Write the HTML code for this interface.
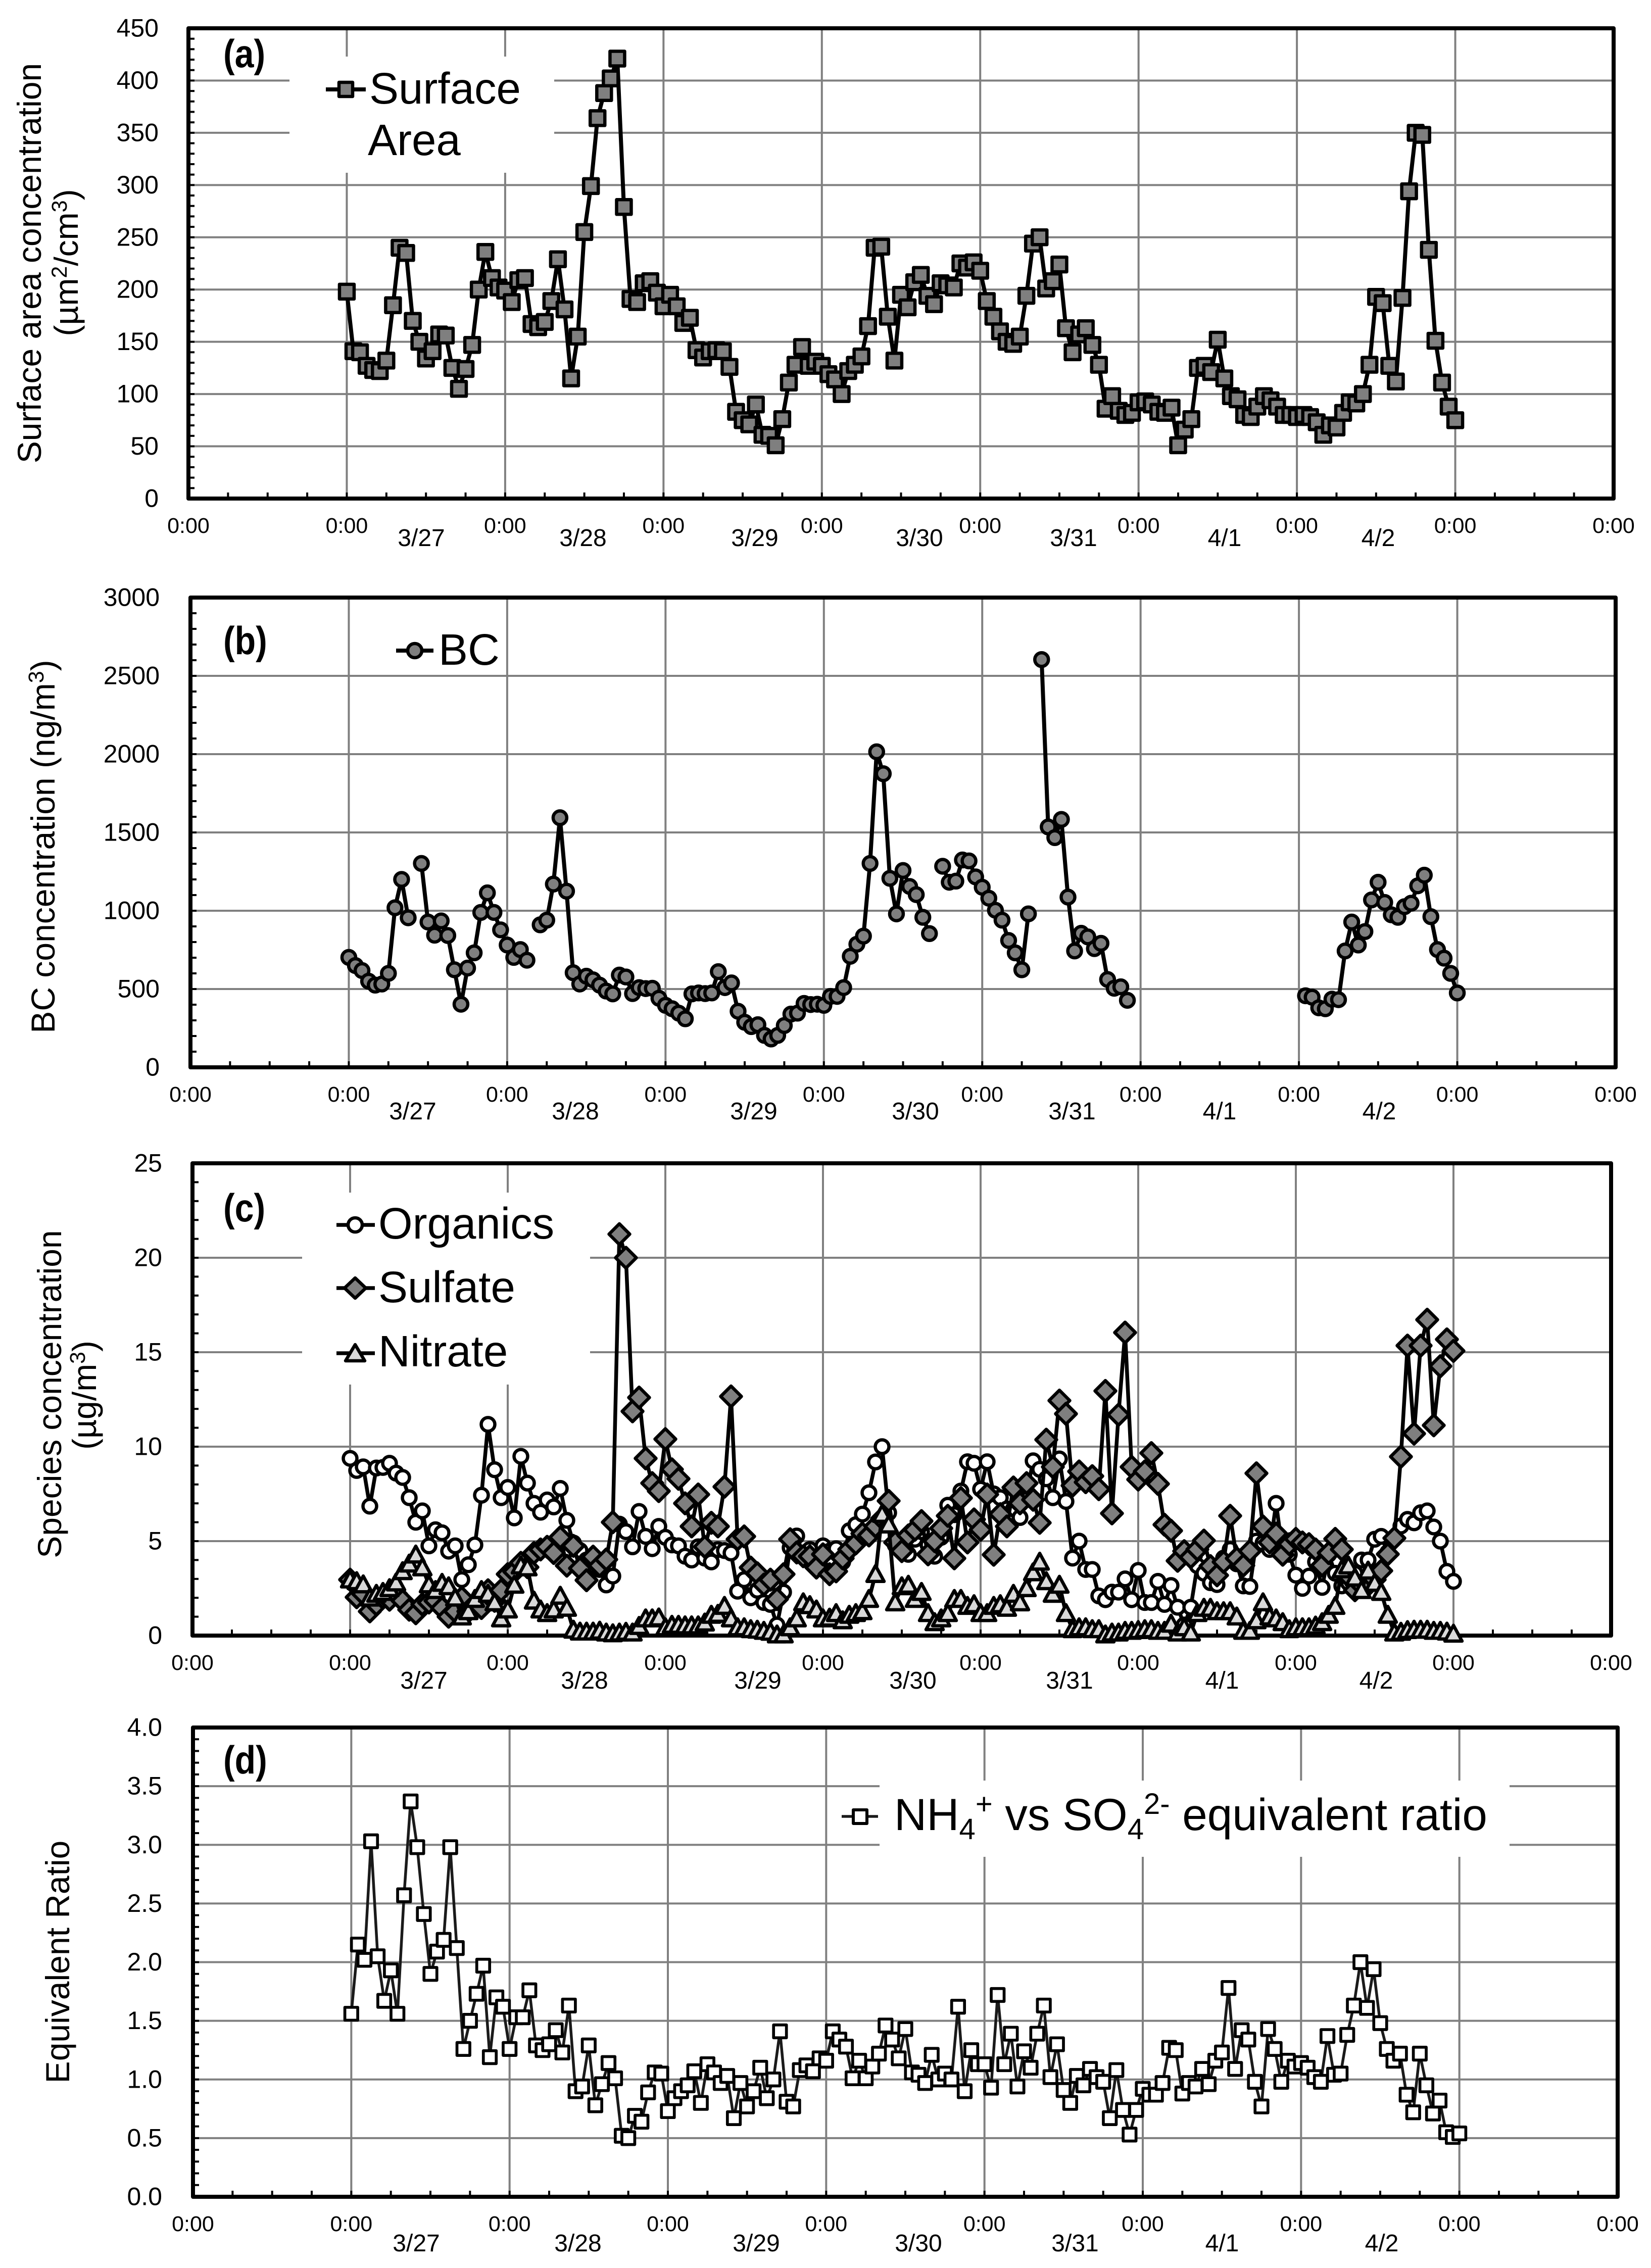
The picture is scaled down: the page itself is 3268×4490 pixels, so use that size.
<!DOCTYPE html>
<html lang="en">
<head>
<meta charset="utf-8">
<title>Time series of surface area, BC, species and equivalent ratio</title>
<style>
html,body{margin:0;padding:0;background:#fff}
svg{display:block}
text{font-family:"Liberation Sans",sans-serif;fill:#000}
.legend-text{font-size:87px}
.panel-tag{font-size:68px;font-weight:bold}
.y-title{font-size:66px}
</style>
</head>
<body>
<svg id="figure" xmlns="http://www.w3.org/2000/svg" width="3268" height="4490" viewBox="0 0 3268 4490">
  <rect x="0" y="0" width="3268" height="4490" fill="#fff"/>
  <g id="plots"></g>

  <g>
    <text class="panel-tag" transform="translate(442,133) scale(1,1.15)">(a)</text>
    <line x1="645" y1="177" x2="724" y2="177" stroke="#000" stroke-width="8"/>
    <rect x="671" y="163" width="27" height="28" fill="#7f7f7f" stroke="#000" stroke-width="6.5" stroke-linejoin="round"/>
    <text class="legend-text" x="731" y="205">Surface</text>
    <text class="legend-text" x="728" y="307">Area</text>
    <text class="y-title" transform="translate(81,521) rotate(-90)" text-anchor="middle">Surface area concentration</text>
    <text class="y-title" transform="translate(154,520) rotate(-90)" text-anchor="middle">(µm<tspan dy="-22" font-size="43">2</tspan><tspan dy="22">/cm</tspan><tspan dy="-22" font-size="43">3</tspan><tspan dy="22">)</tspan></text>
  </g>

  <g>
    <text class="panel-tag" transform="translate(442,1295) scale(1,1.15)">(b)</text>
    <line x1="784" y1="1288" x2="858" y2="1288" stroke="#000" stroke-width="8"/>
    <circle cx="821" cy="1288" r="14" fill="#7f7f7f" stroke="#000" stroke-width="6.5"/>
    <text class="legend-text" x="868" y="1316">BC</text>
    <text class="y-title" transform="translate(108,1676) rotate(-90)" text-anchor="middle">BC concentration (ng/m<tspan dy="-22" font-size="43">3</tspan><tspan dy="22">)</tspan></text>
  </g>

  <g>
    <text class="panel-tag" transform="translate(442,2418) scale(1,1.15)">(c)</text>
    <line x1="666" y1="2425" x2="742" y2="2425" stroke="#000" stroke-width="7.5"/>
    <circle cx="703" cy="2425" r="14" fill="#fff" stroke="#000" stroke-width="6.5"/>
    <text class="legend-text" x="749" y="2452">Organics</text>
    <line x1="666" y1="2550" x2="742" y2="2550" stroke="#000" stroke-width="7.5"/>
    <polygon points="703,2530 724,2550 703,2570 682,2550" fill="#7f7f7f" stroke="#000" stroke-width="6.5" stroke-linejoin="round"/>
    <text class="legend-text" x="749" y="2578">Sulfate</text>
    <line x1="666" y1="2679" x2="742" y2="2679" stroke="#000" stroke-width="7.5"/>
    <polygon points="703,2662 722,2694 684,2694" fill="#d9d9d9" stroke="#000" stroke-width="6.5" stroke-linejoin="round"/>
    <text class="legend-text" x="749" y="2705">Nitrate</text>
    <text class="y-title" transform="translate(121,2760) rotate(-90)" text-anchor="middle">Species concentration</text>
    <text class="y-title" transform="translate(190,2762) rotate(-90)" text-anchor="middle">(µg/m<tspan dy="-22" font-size="43">3</tspan><tspan dy="22">)</tspan></text>
  </g>

  <g>
    <text class="panel-tag" transform="translate(442,3511) scale(1,1.15)">(d)</text>
    <line x1="1666" y1="3596" x2="1738" y2="3596" stroke="#1a1a1a" stroke-width="5.5"/>
    <rect x="1689" y="3583" width="27" height="27" fill="#fff" stroke="#000" stroke-width="6" stroke-linejoin="round"/>
    <text x="1770" y="3623" font-size="89">NH<tspan dy="18" font-size="58">4</tspan><tspan dy="-50" font-size="58">+</tspan><tspan dy="32"> vs SO</tspan><tspan dy="18" font-size="58">4</tspan><tspan dy="-50" font-size="58">2-</tspan><tspan dy="32"> equivalent ratio</tspan></text>
    <text class="y-title" transform="translate(137,3884) rotate(-90)" text-anchor="middle">Equivalent Ratio</text>
  </g>
</svg>

<script>
// ---- data: hourly values, one row per day (3/27 ... 4/2) plus the closing hour ----
const dateLabels = ['3/27','3/28','3/29','3/30','3/31','4/1','4/2'];
const xTickLabels = ['0:00','0:00','0:00','0:00','0:00','0:00','0:00','0:00','0:00','0:00'];

const surfaceArea = [
198,141,140,127,123,122,132,185,240,235,170,150,134,141,157,156,125,105,124,147,200,236,211,202,
199,188,209,211,167,164,169,189,229,181,115,155,255,299,364,388,402,421,279,191,188,206,208,197,
184,195,184,168,173,142,135,141,142,141,126,83,75,71,90,61,60,51,76,111,128,145,127,131,
127,119,114,100,122,128,136,165,240,241,174,132,195,183,207,214,194,186,206,204,202,225,221,226,
218,189,174,160,150,148,155,194,244,250,201,208,224,163,140,157,163,147,128,86,98,84,80,82,
92,93,90,83,82,87,51,66,76,125,127,121,152,115,98,95,80,78,88,98,94,88,80,80,
78,80,78,73,61,70,68,82,92,91,100,128,193,187,127,112,192,294,350,348,238,151,111,88,
75];

const blackCarbon = [
702,650,618,550,525,532,600,1019,1200,955,null,1302,928,844,935,842,623,403,634,731,989,1114,989,878,
781,702,752,684,null,910,940,1170,1594,1125,604,532,582,559,525,487,469,589,577,471,509,503,505,441,
396,374,346,310,469,475,471,475,611,509,539,358,288,260,272,204,181,204,267,340,346,408,401,403,
396,453,453,509,709,786,838,1302,2015,1875,1207,980,1257,1155,1103,958,854,null,1284,1182,1189,1324,1318,1216,
1150,1080,1003,940,810,731,623,980,null,2604,1535,1467,1583,1087,743,856,833,758,792,561,505,514,428,null,
null,null,null,null,null,null,null,null,null,null,null,null,null,null,null,null,null,null,null,null,null,null,null,null,
null,457,448,380,374,435,432,743,928,781,867,1069,1182,1053,974,958,1026,1048,1159,1227,962,752,697,600,
475];

const organics = [
9.38,8.74,8.93,6.85,8.87,8.9,9.12,8.6,8.37,7.3,6.0,6.6,4.75,5.6,5.44,4.47,4.75,2.96,3.75,4.8,7.43,11.18,8.78,7.3,
7.84,6.23,9.49,8.07,7.0,6.53,7.18,6.81,7.79,6.1,4.9,4.5,4.0,3.7,3.5,2.68,3.15,5.9,5.5,4.7,6.57,5.25,4.6,5.78,
5.2,4.8,4.75,4.2,4.0,4.7,4.1,3.9,4.55,4.5,4.37,2.35,2.96,2.0,2.4,1.75,1.65,0.56,2.3,4.65,5.27,4.3,4.56,4.1,
4.75,4.47,4.6,3.9,5.55,5.87,6.43,7.56,9.19,10.0,6.5,4.8,4.5,4.3,5.1,5.5,4.8,4.2,5.2,6.9,6.4,7.65,9.2,9.12,
7.75,9.2,7.5,7.3,6.7,6.7,6.25,7.5,9.25,8.8,8.3,7.3,9.35,7.1,4.1,5.0,3.5,3.5,2.1,1.9,2.3,2.3,3.0,1.9,
3.45,1.75,1.75,2.87,1.65,2.65,1.5,0.56,1.5,3.7,3.3,2.8,2.7,4.1,4.56,3.8,2.63,2.6,5.0,4.9,4.56,7.0,4.4,4.3,
3.2,2.5,3.15,3.9,2.55,4.3,3.3,2.63,2.8,3.3,4.0,4.0,5.1,5.25,4.4,5.2,5.8,6.15,5.97,6.5,6.6,5.75,5.0,3.4,
2.87];

const sulfate = [
2.96,2.03,2.2,1.28,1.65,2.0,1.9,2.2,1.84,1.37,1.18,1.65,1.75,1.84,1.46,1.0,1.28,2.0,1.28,1.65,1.46,2.4,1.84,2.4,
3.25,3.38,3.85,3.62,4.37,4.56,4.7,4.37,5.2,3.7,4.75,3.56,2.93,4.18,3.7,4.03,6.0,21.25,20.0,11.87,12.6,9.38,8.07,7.65,
10.4,8.8,8.3,7.0,5.78,7.47,4.7,5.97,5.78,7.88,12.66,5.1,5.25,3.6,3.3,2.7,2.96,1.93,3.25,5.1,4.4,4.2,4.2,3.6,
4.3,3.25,3.4,4.09,4.56,4.88,5.4,5.3,5.78,6.2,7.13,4.93,4.47,5.3,5.6,6.06,4.3,5.0,5.68,6.34,4.09,7.28,4.93,6.15,
5.6,7.47,4.28,6.43,5.78,7.84,7.0,8.07,7.19,5.97,10.37,8.93,12.44,11.74,7.94,8.69,8.12,8.44,7.75,12.95,6.47,11.69,16.04,8.93,
8.26,8.69,9.66,8.03,5.87,5.55,3.96,4.47,4.15,4.56,5.03,3.68,3.19,3.9,6.34,4.09,3.71,4.47,8.59,5.78,4.93,5.4,4.28,4.84,
5.12,4.93,4.84,4.56,3.71,4.37,5.12,4.56,3.15,2.4,2.68,2.68,2.96,3.43,4.31,5.16,9.47,15.35,10.69,15.35,16.72,11.13,14.26,15.68,
15.07];

const nitrate = [
2.96,2.87,2.7,2.0,2.2,2.3,2.5,2.8,3.4,3.8,4.28,3.6,2.7,2.4,2.78,2.6,2.0,1.0,1.28,1.93,2.4,2.2,1.75,0.9,
1.37,2.68,3.7,3.6,1.84,1.37,1.18,1.37,2.1,1.46,0.3,0.2,0.2,0.2,0.25,0.15,0.11,0.15,0.19,0.15,0.5,0.9,0.9,0.95,
0.43,0.56,0.56,0.53,0.53,0.53,0.68,1.09,1.14,1.56,0.9,0.43,0.43,0.33,0.3,0.24,0.19,0.05,0.05,0.43,0.9,1.75,1.6,1.37,
0.9,0.94,1.18,0.8,1.09,1.18,1.28,1.93,3.25,6.43,5.87,1.75,2.6,2.68,1.93,2.3,1.18,0.7,0.9,1.18,1.93,1.93,1.56,1.65,
1.18,1.18,1.56,1.65,1.46,2.2,1.75,2.5,3.34,3.9,2.87,2.2,2.68,1.18,0.33,0.43,0.43,0.33,0.33,0.05,0.15,0.15,0.24,0.24,
0.28,0.33,0.33,0.24,0.24,0.62,0.15,0.43,0.15,1.18,1.46,1.46,1.28,1.28,1.28,1.0,0.24,0.24,0.8,1.75,1.0,0.9,0.7,0.33,
0.43,0.43,0.43,0.52,0.7,1.09,1.56,3.5,3.7,3.06,2.4,3.43,2.78,2.3,1.09,0.15,0.19,0.28,0.3,0.3,0.3,0.24,0.24,0.2,
0.09];

const equivalentRatio = [
1.56,2.15,2.02,3.03,2.05,1.67,1.93,1.56,2.57,3.37,2.98,2.41,1.9,2.09,2.19,2.98,2.12,1.26,1.5,1.73,1.97,1.19,1.7,1.62,
1.26,1.53,1.53,1.76,1.29,1.25,1.3,1.42,1.23,1.63,0.9,0.94,1.29,0.78,0.96,1.14,1.01,0.52,0.5,0.69,0.64,0.89,1.06,1.05,
0.73,0.84,0.9,0.95,1.07,0.8,1.13,1.06,0.97,1.03,0.67,0.97,0.77,0.9,1.1,0.84,1.0,1.41,0.81,0.77,1.08,1.12,1.07,1.18,
1.16,1.41,1.34,1.28,1.01,1.16,1.01,1.11,1.22,1.46,1.34,1.18,1.43,1.06,1.04,0.97,1.21,1.0,1.05,1.0,1.62,0.9,1.25,1.13,
1.13,0.93,1.72,1.13,1.39,0.94,1.24,1.1,1.39,1.63,1.02,1.3,0.91,0.8,1.03,0.95,1.09,1.02,0.98,0.67,1.08,0.74,0.53,0.74,
0.92,0.87,0.87,0.97,1.27,1.25,0.88,0.97,0.94,1.09,0.96,1.16,1.23,1.78,1.09,1.42,1.34,0.98,0.77,1.43,1.26,0.98,1.16,1.11,
1.14,1.1,1.02,0.98,1.37,1.04,1.05,1.38,1.63,2.0,1.61,1.94,1.48,1.26,1.16,1.22,0.87,0.72,1.22,0.95,0.71,0.82,0.55,0.51,
0.54];

const yTicksA = [0,50,100,150,200,250,300,350,400,450];
const yTicksB = [0,500,1000,1500,2000,2500,3000];
const yTicksC = [0,5,10,15,20,25];
const yTicksD = ['0.0','0.5','1.0','1.5','2.0','2.5','3.0','3.5','4.0'];

// ---- layout ----
const NS = 'http://www.w3.org/2000/svg';
const plots = document.getElementById('plots');
const HOURS_ON_AXIS = 9 * 24;
const HOUR_OFFSET = 24;

const panels = [
  {key:'a', left:373, right:3194, top:56, bottom:987, ticks:yTicksA, minorStep:10, tickRight:314, xBase:1055, dateBase:1081,
   dateX:[834,1154,1494,1820,2125,2424,2728], box:[573,112,524,230],
   series:[{name:'surface-area', values:surfaceArea, marker:'square', fill:'#7f7f7f', size:29, width:8, sw:6.5}]},
  {key:'b', left:377, right:3198, top:1183, bottom:2113, ticks:yTicksB, minorStep:100, tickRight:316, xBase:2181, dateBase:2216,
   dateX:[817,1139,1492,1812,2122,2414,2730], box:null,
   series:[{name:'bc', values:blackCarbon, marker:'circle', fill:'#7f7f7f', size:27, width:8, sw:6.5}]},
  {key:'c', left:381, right:3189, top:2303, bottom:3238, ticks:yTicksC, minorStep:1, tickRight:321, xBase:3306, dateBase:3343,
   dateX:[839,1157,1500,1807,2117,2419,2724], box:[598,2361,570,380],
   series:[
     {name:'organics', values:organics, marker:'circle', fill:'#fff', size:27, width:7.5, sw:6.5},
     {name:'sulfate', values:sulfate, marker:'diamond', fill:'#7f7f7f', size:41, width:7.5, sw:6.5},
     {name:'nitrate', values:nitrate, marker:'triangle', fill:'#d9d9d9', size:34, width:7.5, sw:6.5}
   ]},
  {key:'d', left:382, right:3202, top:3420, bottom:4349, ticks:yTicksD, minorStep:0.1, tickRight:321, xBase:4417, dateBase:4457,
   dateX:[824,1144,1497,1818,2128,2419,2735], box:[1741,3525,1247,151],
   series:[{name:'equivalent-ratio', values:equivalentRatio, marker:'square', fill:'#fff', size:25.5, width:5.5, sw:5.7, line:'#1a1a1a'}]}
];

function svgEl(tag, attrs) {
  const el = document.createElementNS(NS, tag);
  for (const k in attrs) el.setAttribute(k, attrs[k]);
  return el;
}

function drawMarker(group, kind, x, y, s) {
  let el;
  if (kind === 'square') {
    el = svgEl('rect', {x: x - s/2, y: y - s/2, width: s, height: s});
  } else if (kind === 'circle') {
    el = svgEl('circle', {cx: x, cy: y, r: s/2});
  } else if (kind === 'diamond') {
    el = svgEl('polygon', {points: x+','+(y-s/2)+' '+(x+s/2)+','+y+' '+x+','+(y+s/2)+' '+(x-s/2)+','+y});
  } else {
    el = svgEl('polygon', {points: x+','+(y-s/2)+' '+(x+s/2)+','+(y+s*0.42)+' '+(x-s/2)+','+(y+s*0.42)});
  }
  
  
  group.appendChild(el);
}

function drawPanel(p) {
  const g = svgEl('g', {});
  
  
  plots.appendChild(g);

  const yMax = Number(p.ticks[p.ticks.length - 1]);
  const xScale = h => p.left + (p.right - p.left) * (h + HOUR_OFFSET) / HOURS_ON_AXIS;
  const yScale = v => p.bottom - (v / yMax) * (p.bottom - p.top);

  // horizontal gridlines + y tick labels
  p.ticks.forEach(t => {
    const v = Number(t), y = yScale(v);
    if (v > 0 && v < yMax) {
      const gl = svgEl('line', {x1:p.left, x2:p.right, y1:y, y2:y, stroke:'#808080', 'stroke-width':4});
      
      
      g.appendChild(gl);
    }
    const lab = svgEl('text', {x:p.tickRight, y:y + 16.5, 'text-anchor':'end', 'font-size':50});
    
    
    lab.textContent = t;
    g.appendChild(lab);
  });

  // vertical gridlines + x tick labels
  xTickLabels.forEach((t, i) => {
    const x = xScale((i - 1) * 24);
    if (i > 0 && i < xTickLabels.length - 1) {
      const gl = svgEl('line', {x1:x, x2:x, y1:p.top, y2:p.bottom, stroke:'#808080', 'stroke-width':4});
      
      
      g.appendChild(gl);
    }
    const lab = svgEl('text', {x:x, y:p.xBase, 'text-anchor':'middle', 'font-size':43});
    
    
    lab.textContent = t;
    g.appendChild(lab);
  });

  // legend backing
  if (p.box) {
    const bx = svgEl('rect', {x:p.box[0], y:p.box[1], width:p.box[2], height:p.box[3], fill:'#fff'});
    
    
    g.appendChild(bx);
  }

  // date labels
  dateLabels.forEach((d, i) => {
    const lab = svgEl('text', {x:p.dateX[i], y:p.dateBase, 'text-anchor':'middle', 'font-size':48});
    
    
    lab.textContent = d;
    g.appendChild(lab);
  });

  // minor ticks
  const ticks = svgEl('g', {stroke:'#000', 'stroke-width':4});
  
  
  const nY = Math.round(yMax / p.minorStep);
  for (let k = 1; k < nY; k++) {
    const y = yScale(k * p.minorStep);
    ticks.appendChild(svgEl('line', {x1:p.left, x2:p.left + 12, y1:y, y2:y}));
  }
  for (let h = -18; h < 192; h += 6) {
    const x = xScale(h);
    ticks.appendChild(svgEl('line', {x1:x, x2:x, y1:p.bottom, y2:p.bottom - 12}));
  }
  g.appendChild(ticks);

  // frame
  const frame = svgEl('rect', {x:p.left, y:p.top, width:p.right - p.left, height:p.bottom - p.top, fill:'none', stroke:'#000', 'stroke-width':8, 'stroke-linejoin':'round'});
  
  
  g.appendChild(frame);

  // series
  p.series.forEach(s => {
    const color = s.line || '#000';
    let d = '', pen = false;
    s.values.forEach((v, i) => {
      if (v === null) { pen = false; return; }
      d += (pen ? 'L' : 'M') + xScale(i).toFixed(1) + ' ' + yScale(v).toFixed(1);
      pen = true;
    });
    const line = svgEl('path', {d:d, fill:'none', stroke:color, 'stroke-width':s.width, 'stroke-linejoin':'round'});
    
    
    g.appendChild(line);

    const mg = svgEl('g', {fill:s.fill, stroke:'#000', 'stroke-width':s.sw, 'stroke-linejoin':'round'});
    
    
    s.values.forEach((v, i) => {
      if (v === null) return;
      drawMarker(mg, s.marker, xScale(i), yScale(v), s.size);
    });
    g.appendChild(mg);
  });
}

panels.forEach(drawPanel);
</script>
</body>
</html>
